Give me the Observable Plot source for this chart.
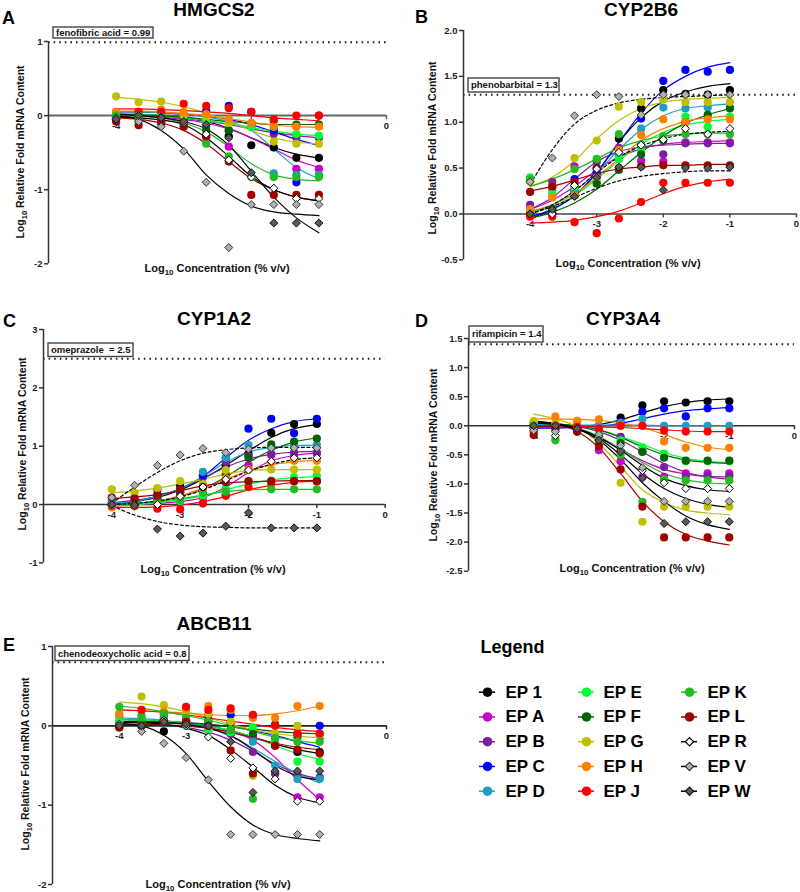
<!DOCTYPE html>
<html><head><meta charset="utf-8">
<script src="https://cdn.jsdelivr.net/npm/d3@7"></script>
<script src="https://cdn.jsdelivr.net/npm/@observablehq/plot@0.6"></script>
<style>
body{margin:0;background:#fff}
#wrap{position:relative;width:800px;height:892px;overflow:hidden;font-family:"Liberation Sans",Arial,sans-serif}
#wrap svg{position:absolute}
</style></head><body><div id="wrap"></div>
<script>
// ---------- data ----------
const conc = [-4, -3.667, -3.333, -3, -2.667, -2.333, -2, -1.667, -1.333, -1];
const xTicks = [-4, -3, -2, -1, 0];
const series = ["EP 1","EP A","EP B","EP C","EP D","EP E","EP F","EP G","EP H","EP J","EP K","EP L","EP R","EP V","EP W"];
const pointFill = ["#000000","#cc00cc","#7a1f9e","#0000ff","#1f9fbf","#00ff33","#006400","#bfbf00","#ff8000","#ff0000","#22bb22","#a00000","#ffffff","#b0b0b0","#5a5a5a"];
const pointStroke = ["none","none","none","none","none","none","none","none","none","none","none","none","#000000","#333333","#111111"];
const lineColor = ["#000000","#cc00cc","#7a1f9e","#0000ff","#1f9fbf","#00ff33","#006400","#bfbf00","#ff8000","#ff0000","#22bb22","#a00000","#000000","#000000","#000000"];
const markerShape = ["circle","circle","circle","circle","circle","circle","circle","circle","circle","circle","circle","circle","diamond","diamond","diamond"];

const panelTitles = ["HMGCS2","CYP2B6","CYP1A2","CYP3A4","ABCB11"];
const panelLetters = ["A","B","C","D","E"];
const refLabels = ["fenofibric acid = 0.99","phenobarbital = 1.3","omeprazole  = 2.5","rifampicin = 1.4","chenodeoxycholic acid = 0.8"];
const refValues = [0.99, 1.3, 2.5, 1.4, 0.8];
const yTicksA = [-2, -1, 0, 1];
const yTicksB = [-0.5, 0, 0.5, 1, 1.5, 2];
const yTicksC = [-1, 0, 1, 2, 3];
const yTicksD = [-2.5, -2, -1.5, -1, -0.5, 0, 0.5, 1, 1.5];
const yTicksE = [-2, -1, 0, 1];

// HMGCS2 (A)
const hmgcs2Points = [
 [0.0, 0.0, -0.1, -0.03, -0.07, -0.28, -0.4, -0.43, -0.57, -0.57],
 [-0.02, -0.05, -0.08, -0.12, -0.3, -0.42, -0.15, -0.2, -0.72, -0.72],
 [-0.02, 0.0, -0.05, -0.1, -0.15, -0.2, -0.1, -0.25, -0.3, -0.3],
 [0.03, 0.03, 0.02, 0.0, 0.06, 0.13, 0.05, -0.2, -0.9, 0.0],
 [0.05, 0.05, 0.03, 0.0, -0.05, -0.08, -0.15, -0.78, -0.8, -0.8],
 [0.02, 0.02, 0.0, -0.05, -0.08, -0.1, -0.15, -0.15, -0.25, -0.27],
 [0.0, 0.0, -0.02, -0.05, -0.2, -0.2, -0.1, -0.07, -0.12, -0.12],
 [0.26, 0.18, 0.19, 0.0, -0.02, -0.1, -0.1, -0.35, -0.38, -0.38],
 [0.05, 0.05, 0.08, 0.05, 0.02, -0.05, -0.1, -0.15, -0.15, -0.15],
 [-0.05, 0.05, 0.05, 0.16, 0.13, 0.1, 0.05, -0.05, 0.0, 0.0],
 [0.0, 0.0, -0.02, -0.12, -0.38, -0.55, -0.83, -0.83, -0.83, -0.83],
 [-0.08, -0.13, -0.08, -0.15, -0.28, -0.62, -1.07, -1.07, -1.07, -1.07],
 [-0.03, -0.08, -0.02, -0.1, -0.25, -0.6, -0.83, -0.98, -1.12, -1.12],
 [-0.03, -0.08, -0.15, -0.48, -0.9, -1.78, -1.2, -1.2, -1.2, -1.2],
 [-0.05, 0.0, -0.03, -0.08, -0.12, -0.3, -0.77, -1.45, -1.45, -1.45]
];
const hmgcs2Fits = [
 [0.02, 0.01, 0, -0.03, -0.08, -0.17, -0.3, -0.43, -0.52, -0.57],
 [0.0, 0.0, -0.02, -0.05, -0.1, -0.18, -0.3, -0.45, -0.6, -0.7],
 [0.02, 0.01, 0, -0.03, -0.07, -0.12, -0.18, -0.23, -0.27, -0.3],
 [0.05, 0.05, 0.04, 0.02, -0.01, -0.05, -0.12, -0.22, -0.32, -0.4],
 [0.05, 0.05, 0.04, 0.02, -0.02, -0.08, -0.2, -0.45, -0.7, -0.85],
 [0.03, 0.02, 0, -0.03, -0.07, -0.11, -0.16, -0.21, -0.25, -0.27],
 [0.02, 0.01, 0, -0.02, -0.05, -0.08, -0.1, -0.12, -0.12, -0.12],
 [0.25, 0.22, 0.18, 0.12, 0.03, -0.08, -0.2, -0.3, -0.36, -0.38],
 [0.06, 0.06, 0.05, 0.03, 0, -0.04, -0.09, -0.13, -0.15, -0.16],
 [0.09, 0.09, 0.08, 0.07, 0.05, 0.03, 0, -0.03, -0.05, -0.07],
 [0.0, -0.01, -0.03, -0.1, -0.22, -0.42, -0.65, -0.8, -0.86, -0.88],
 [-0.03, -0.05, -0.1, -0.2, -0.38, -0.62, -0.85, -1.0, -1.1, -1.15],
 [-0.02, -0.03, -0.06, -0.12, -0.3, -0.55, -0.82, -1.0, -1.1, -1.15],
 [0.0, -0.05, -0.2, -0.45, -0.8, -1.05, -1.22, -1.3, -1.33, -1.35],
 [0.02, 0.0, -0.03, -0.08, -0.18, -0.4, -0.75, -1.1, -1.38, -1.58]
];

// CYP2B6 (B)
const cyp2b6Points = [
 [0.0, 0.0, 0.24, 0.4, 0.82, 1.15, 1.35, 1.31, 1.3, 1.35],
 [0.05, 0.2, 0.52, 0.45, 0.6, 0.58, 0.57, 0.78, 0.78, 0.78],
 [0.1, 0.35, 0.3, 0.57, 0.72, 0.75, 0.65, 0.77, 0.77, 0.77],
 [0.0, 0.05, 0.38, 0.45, 0.7, 1.04, 1.45, 1.57, 1.55, 1.57],
 [0.05, 0.27, 0.25, 0.5, 0.65, 0.93, 1.16, 1.15, 1.16, 1.16],
 [0.4, 0.22, 0.3, 0.35, 0.6, 0.7, 0.85, 1.06, 0.95, 1.06],
 [0.0, 0.05, 0.2, 0.33, 0.48, 0.65, 0.8, 1.0, 1.08, 1.15],
 [0.35, 0.3, 0.61, 0.8, 1.17, 1.22, 1.25, 1.22, 1.22, 1.22],
 [0.05, 0.18, 0.2, 0.4, 0.7, 0.86, 1.03, 1.0, 1.03, 1.03],
 [-0.03, -0.03, -0.09, -0.21, -0.05, 0.13, 0.34, 0.34, 0.34, 0.34],
 [0.38, 0.3, 0.49, 0.6, 0.87, 0.75, 0.85, 0.87, 0.87, 0.87],
 [0.24, 0.3, 0.35, 0.5, 0.5, 0.52, 0.53, 0.53, 0.53, 0.53],
 [0.0, 0.0, 0.31, 0.49, 0.67, 0.75, 0.81, 0.93, 0.87, 0.93],
 [0.35, 0.61, 1.07, 1.3, 1.28, 1.08, 1.3, 1.3, 1.3, 1.3],
 [0.0, 0.05, 0.19, 0.4, 0.51, 0.51, 0.26, 0.5, 0.5, 0.51]
];
const cyp2b6Fits = [
 [-0.05, 0.05, 0.2, 0.45, 0.78, 1.05, 1.23, 1.33, 1.39, 1.42],
 [0.05, 0.15, 0.3, 0.48, 0.62, 0.71, 0.76, 0.78, 0.79, 0.8],
 [0.05, 0.18, 0.38, 0.57, 0.68, 0.73, 0.75, 0.76, 0.77, 0.77],
 [-0.03, 0.05, 0.2, 0.45, 0.78, 1.1, 1.35, 1.5, 1.6, 1.65],
 [0.02, 0.1, 0.25, 0.45, 0.7, 0.92, 1.07, 1.15, 1.18, 1.2],
 [0.02, 0.08, 0.2, 0.38, 0.58, 0.76, 0.89, 0.97, 1.01, 1.03],
 [-0.05, 0.02, 0.12, 0.27, 0.47, 0.67, 0.85, 0.99, 1.08, 1.15],
 [0.3, 0.4, 0.58, 0.82, 1.02, 1.15, 1.22, 1.25, 1.26, 1.27],
 [0.03, 0.1, 0.22, 0.4, 0.6, 0.8, 0.93, 1.01, 1.05, 1.07],
 [-0.1, -0.09, -0.07, -0.03, 0.03, 0.12, 0.22, 0.3, 0.35, 0.38],
 [0.3, 0.38, 0.48, 0.6, 0.72, 0.8, 0.85, 0.87, 0.88, 0.88],
 [0.25, 0.3, 0.37, 0.44, 0.49, 0.51, 0.53, 0.53, 0.54, 0.54],
 [0.0, 0.1, 0.25, 0.45, 0.62, 0.74, 0.82, 0.87, 0.89, 0.9],
 [0.32, 0.7, 0.98, 1.13, 1.21, 1.25, 1.27, 1.28, 1.29, 1.3],
 [0.0, 0.08, 0.18, 0.28, 0.36, 0.41, 0.44, 0.46, 0.47, 0.47]
];

// CYP1A2 (C)
const cyp1a2Points = [
 [0.0, 0.0, 0.16, 0.31, 0.51, 0.67, 0.87, 1.23, 1.38, 1.38],
 [0.0, 0.0, 0.05, 0.05, 0.12, 0.16, 0.67, 0.87, 0.85, 0.87],
 [0.05, 0.12, 0.1, 0.22, 0.47, 0.73, 0.83, 0.85, 0.89, 0.89],
 [0.02, 0.05, 0.25, 0.2, 0.5, 0.8, 1.3, 1.47, 1.22, 1.47],
 [0.05, 0.05, 0.12, 0.25, 0.56, 0.8, 1.02, 0.98, 1.02, 1.02],
 [0.0, 0.0, 0.02, 0.06, 0.15, 0.27, 0.39, 0.41, 0.47, 0.49],
 [0.0, 0.02, 0.05, 0.15, 0.3, 0.51, 0.8, 1.03, 1.08, 1.13],
 [0.26, 0.2, 0.28, 0.4, 0.35, 0.59, 0.6, 0.6, 0.6, 0.6],
 [-0.05, -0.03, 0.0, 0.1, 0.25, 0.45, 0.6, 0.72, 0.75, 0.75],
 [-0.02, -0.02, -0.07, -0.08, 0.02, 0.15, 0.3, 0.36, 0.4, 0.4],
 [0.0, 0.0, 0.03, 0.08, 0.2, 0.22, 0.39, 0.26, 0.26, 0.26],
 [0.12, 0.1, 0.15, 0.25, 0.3, 0.38, 0.4, 0.4, 0.4, 0.4],
 [0.0, 0.0, 0.0, 0.14, 0.3, 0.43, 0.59, 0.74, 0.8, 0.8],
 [0.12, 0.33, 0.67, 0.85, 0.96, 0.89, 0.95, 0.97, 0.97, 0.97],
 [0.0, -0.02, -0.42, -0.54, -0.49, -0.37, -0.14, -0.4, -0.4, -0.4]
];
const cyp1a2Fits = [
 [0.0, 0.05, 0.12, 0.25, 0.44, 0.67, 0.92, 1.15, 1.3, 1.37],
 [0.0, 0.0, 0.02, 0.05, 0.12, 0.3, 0.55, 0.75, 0.84, 0.88],
 [0.03, 0.07, 0.14, 0.27, 0.45, 0.64, 0.78, 0.86, 0.9, 0.91],
 [0.02, 0.06, 0.14, 0.27, 0.48, 0.8, 1.1, 1.3, 1.42, 1.47],
 [0.02, 0.06, 0.14, 0.27, 0.48, 0.72, 0.9, 0.98, 1.01, 1.02],
 [-0.02, 0.0, 0.03, 0.08, 0.15, 0.25, 0.35, 0.42, 0.46, 0.48],
 [0.0, 0.02, 0.06, 0.14, 0.27, 0.47, 0.72, 0.93, 1.07, 1.14],
 [0.2, 0.23, 0.28, 0.35, 0.43, 0.52, 0.58, 0.6, 0.6, 0.6],
 [-0.03, 0.0, 0.06, 0.15, 0.28, 0.43, 0.58, 0.68, 0.73, 0.76],
 [-0.05, -0.05, -0.04, -0.01, 0.05, 0.14, 0.25, 0.33, 0.38, 0.4],
 [0.0, 0.02, 0.05, 0.1, 0.16, 0.22, 0.25, 0.26, 0.26, 0.26],
 [0.1, 0.13, 0.17, 0.24, 0.32, 0.37, 0.39, 0.4, 0.41, 0.41],
 [0.0, 0.02, 0.06, 0.13, 0.25, 0.41, 0.57, 0.69, 0.77, 0.8],
 [0.02, 0.3, 0.55, 0.75, 0.88, 0.94, 0.97, 0.98, 0.98, 0.98],
 [-0.02, -0.18, -0.29, -0.35, -0.38, -0.39, -0.4, -0.4, -0.4, -0.4]
];

// CYP3A4 (D)
const cyp3a4Points = [
 [0.0, 0.0, -0.08, -0.03, 0.14, 0.35, 0.42, 0.4, 0.42, 0.42],
 [0.0, -0.05, -0.1, -0.42, -0.61, -0.88, -0.88, -0.82, -0.82, -0.82],
 [0.05, 0.0, -0.1, -0.2, -0.19, -0.44, -0.71, -0.87, -0.87, -0.87],
 [-0.03, 0.0, -0.02, 0.0, 0.06, 0.24, 0.3, 0.16, 0.3, 0.3],
 [0.05, 0.02, 0.0, 0.0, 0.05, 0.12, 0.0, 0.0, 0.0, 0.0],
 [0.05, -0.22, -0.05, -0.15, -0.25, -0.37, -0.48, -0.61, -0.61, -0.61],
 [0.0, 0.0, -0.05, -0.25, -0.3, -0.45, -0.55, -0.6, -0.6, -0.6],
 [0.08, 0.05, 0.09, -0.2, -0.98, -1.65, -1.39, -1.39, -1.39, -1.39],
 [0.0, 0.16, 0.07, 0.11, 0.0, 0.0, -0.27, -0.38, -0.38, -0.38],
 [-0.1, 0.0, -0.02, -0.05, 0.0, 0.0, -0.08, -0.1, -0.1, -0.1],
 [0.0, -0.25, -0.1, -0.3, -0.5, -1.31, -0.92, -0.94, -0.94, -0.94],
 [-0.16, -0.05, -0.1, -0.35, -0.75, -1.39, -1.92, -1.92, -1.92, -1.92],
 [-0.05, -0.17, -0.05, -0.18, -0.42, -0.77, -0.98, -1.08, -1.08, -1.08],
 [-0.08, -0.1, -0.05, -0.15, -0.34, -0.72, -1.3, -1.3, -1.3, -1.3],
 [0.0, 0.0, -0.05, -0.25, -0.45, -0.9, -1.68, -1.65, -1.65, -1.65]
];
const cyp3a4Fits = [
 [-0.02, -0.02, -0.01, 0.02, 0.1, 0.22, 0.33, 0.4, 0.44, 0.46],
 [0.03, 0.0, -0.06, -0.2, -0.4, -0.6, -0.75, -0.83, -0.87, -0.88],
 [0.05, 0.03, -0.01, -0.1, -0.25, -0.45, -0.65, -0.8, -0.88, -0.92],
 [-0.04, -0.04, -0.03, -0.01, 0.04, 0.12, 0.2, 0.26, 0.29, 0.31],
 [0.02, 0.02, 0.01, 0.01, 0.01, 0.01, 0.0, 0.0, 0.0, 0.0],
 [0.05, 0.03, 0.0, -0.07, -0.18, -0.32, -0.46, -0.56, -0.61, -0.63],
 [0.05, 0.03, 0.0, -0.07, -0.2, -0.36, -0.5, -0.59, -0.63, -0.65],
 [0.2, 0.12, -0.02, -0.3, -0.7, -1.1, -1.32, -1.45, -1.5, -1.53],
 [0.12, 0.12, 0.11, 0.09, 0.05, -0.03, -0.15, -0.28, -0.37, -0.41],
 [0.0, 0.0, -0.01, -0.02, -0.03, -0.05, -0.07, -0.09, -0.1, -0.1],
 [0.05, 0.02, -0.04, -0.18, -0.4, -0.63, -0.82, -0.93, -0.98, -1.0],
 [0.08, 0.03, -0.1, -0.38, -0.82, -1.3, -1.65, -1.87, -1.98, -2.05],
 [0.05, 0.02, -0.05, -0.2, -0.42, -0.68, -0.9, -1.03, -1.1, -1.13],
 [0.07, 0.03, -0.05, -0.22, -0.5, -0.82, -1.08, -1.25, -1.35, -1.4],
 [0.07, 0.04, -0.05, -0.25, -0.58, -0.98, -1.3, -1.55, -1.7, -1.78]
];

// ABCB11 (E)
const abcb11Points = [
 [0.0, 0.0, -0.07, 0.07, 0.14, 0.04, -0.14, -0.25, -0.33, -0.33],
 [0.05, 0.05, 0.1, 0.0, -0.03, -0.1, -0.15, -0.6, -0.9, -0.9],
 [0.05, 0.03, 0.08, 0.03, -0.05, -0.1, -0.33, -0.6, -0.62, -0.65],
 [0.0, 0.05, 0.05, 0.05, 0.06, 0.14, 0.12, -0.15, -0.1, 0.0],
 [0.12, 0.13, 0.1, 0.05, 0.0, -0.05, -0.2, -0.5, -0.67, -0.67],
 [0.05, 0.05, 0.05, 0.0, -0.05, -0.08, -0.02, -0.2, -0.45, -0.45],
 [0.0, 0.03, 0.05, 0.02, 0.0, -0.05, -0.1, 0.02, -0.14, -0.1],
 [0.15, 0.37, 0.26, 0.2, 0.15, 0.05, -0.63, -0.1, 0.0, -0.12],
 [0.15, 0.2, 0.18, 0.22, 0.25, 0.2, 0.1, 0.1, 0.25, 0.25],
 [-0.02, 0.2, 0.15, 0.24, 0.2, 0.22, 0.14, 0.0, -0.1, -0.1],
 [0.24, 0.1, 0.15, 0.1, 0.05, -0.05, -0.92, -0.15, -0.2, -0.2],
 [-0.02, 0.0, 0.05, 0.05, 0.0, -0.31, -0.6, -0.25, -0.3, -0.35],
 [0.02, 0.0, 0.07, 0.0, -0.14, -0.41, -0.53, -0.67, -0.95, -0.95],
 [0.02, -0.07, -0.22, -0.4, -0.68, -1.37, -1.37, -1.37, -1.37, -1.37],
 [0.0, 0.0, 0.05, 0.02, 0.0, -0.2, -0.84, -0.57, -0.57, -0.57]
];
const abcb11Fits = [
 [0.08, 0.07, 0.06, 0.04, 0.0, -0.06, -0.14, -0.23, -0.3, -0.35],
 [0.02, 0.02, 0.01, 0.0, -0.03, -0.08, -0.18, -0.4, -0.68, -0.93],
 [0.05, 0.04, 0.02, -0.02, -0.08, -0.18, -0.32, -0.48, -0.6, -0.67],
 [0.05, 0.05, 0.05, 0.04, 0.02, -0.01, -0.06, -0.12, -0.2, -0.27],
 [0.1, 0.09, 0.07, 0.03, -0.03, -0.13, -0.28, -0.45, -0.6, -0.72],
 [0.08, 0.07, 0.06, 0.04, 0.0, -0.06, -0.14, -0.25, -0.35, -0.42],
 [0.05, 0.05, 0.04, 0.03, 0.02, -0.01, -0.04, -0.07, -0.09, -0.1],
 [0.3, 0.28, 0.24, 0.18, 0.1, 0.02, -0.05, -0.1, -0.13, -0.15],
 [0.2, 0.19, 0.18, 0.16, 0.14, 0.13, 0.13, 0.15, 0.19, 0.25],
 [0.2, 0.19, 0.17, 0.14, 0.1, 0.06, 0.02, -0.02, -0.05, -0.07],
 [0.25, 0.22, 0.18, 0.13, 0.07, 0.0, -0.07, -0.14, -0.19, -0.22],
 [0.02, 0.02, 0.01, 0.0, -0.03, -0.08, -0.15, -0.22, -0.27, -0.3],
 [0.05, 0.04, 0.02, -0.03, -0.12, -0.3, -0.52, -0.75, -0.9, -0.97],
 [0.03, 0.0, -0.12, -0.35, -0.7, -1.02, -1.25, -1.37, -1.42, -1.45],
 [0.05, 0.05, 0.04, 0.02, -0.03, -0.12, -0.3, -0.5, -0.63, -0.68]
];

// ---------- layout ----------
const FONT = '"Liberation Sans", Arial, sans-serif';
const fmtInt = d => String(d);
const fmt1 = d => d.toFixed(1);
const panels = [
 {pts: hmgcs2Points, fits: hmgcs2Fits, yTicks: yTicksA, fmt: fmtInt, frame: [48, 40.7, 386, 263], axisColor: "#666", axisWidth: 2, dashed: false,
  title: [214, 16], letter: [2, 24], ylab: [24, 152], xlab: [217, 272], box: [53, 27, 100, 11]},
 {pts: cyp2b6Points, fits: cyp2b6Fits, yTicks: yTicksB, fmt: fmt1, frame: [463, 30, 796, 259.3], axisColor: "#444", axisWidth: 1.6, dashed: true,
  title: [641, 16], letter: [415, 23], ylab: [436, 148], xlab: [628, 267], box: [468, 78, 91, 14]},
 {pts: cyp1a2Points, fits: cyp1a2Fits, yTicks: yTicksC, fmt: fmtInt, frame: [43.3, 329.3, 385, 562.7], axisColor: "#333", axisWidth: 1.6, dashed: true,
  title: [214, 325], letter: [3, 327], ylab: [26, 444], xlab: [213, 573], box: [48, 343, 85, 13.5]},
 {pts: cyp3a4Points, fits: cyp3a4Fits, yTicks: yTicksD, fmt: fmt1, frame: [468.3, 338.3, 794.3, 571], axisColor: "#333", axisWidth: 1.6, dashed: false,
  title: [623, 325], letter: [415, 327], ylab: [437, 455], xlab: [632, 572], box: [469, 326, 74, 16]},
 {pts: abcb11Points, fits: abcb11Fits, yTicks: yTicksE, fmt: fmtInt, frame: [51.7, 646, 385.7, 884], axisColor: "#222", axisWidth: 1.6, dashed: false,
  title: [214, 630], letter: [3, 651], ylab: [29, 764], xlab: [218, 888], box: [55, 646, 134, 14.5]}
];
panels[0].yDomain = [-2, 1];
panels[1].yDomain = [-0.5, 2];
panels[2].yDomain = [-1, 3];
panels[3].yDomain = [-2.5, 1.5];
panels[4].yDomain = [-2, 1];

const diamondSymbol = {
  draw(ctx, size) {
    const h = Math.sqrt(size / 2);
    ctx.moveTo(0, -h); ctx.lineTo(h, 0); ctx.lineTo(0, h); ctx.lineTo(-h, 0); ctx.closePath();
  }
};

const wrap = document.getElementById("wrap");

panels.forEach((P, k) => {
  const [fl, ft, fr, fb] = P.frame;
  const mL = 45, mR = 6, mT = 20, mB = 20;
  const pxX = (fr - fl) / 5;
  const pxY = (fb - ft) / (P.yDomain[1] - P.yDomain[0]);
  const pts = [], fits = [];
  series.forEach((s, i) => conc.forEach((c, j) => {
    pts.push({i, x: c, y: P.pts[i][j]});
    fits.push({i, x: c, y: P.fits[i][j]});
  }));
  const dashedSeries = d => P.dashed && markerShape[d.i] === "diamond";
  const svg = Plot.plot({
    width: fr - fl + mL + mR,
    height: fb - ft + mT + mB,
    marginLeft: mL, marginRight: mR, marginTop: mT, marginBottom: mB,
    x: {domain: [-5, 0], axis: null},
    y: {domain: P.yDomain, axis: null},
    color: {type: "identity"},
    style: {background: "transparent", overflow: "visible", fontFamily: FONT},
    marks: [
      Plot.ruleY([refValues[k]], {stroke: "#222", strokeWidth: 2, strokeDasharray: "1.6,4"}),
      Plot.ruleY([0], {stroke: P.axisColor, strokeWidth: P.axisWidth}),
      Plot.ruleX([-5], {stroke: "#333", strokeWidth: 1.5}),
      Plot.ruleY(P.yTicks, {y: d => d, x1: -5, x2: -5 - 4 / pxX, stroke: "#333", strokeWidth: 1.5}),
      Plot.text(P.yTicks, {y: d => d, x: -5, dx: -6, text: P.fmt, textAnchor: "end", fontSize: 9.5, fontWeight: "bold", fill: "#222"}),
      Plot.ruleX(xTicks, {x: d => d, y1: 0, y2: -4 / pxY, stroke: P.axisColor, strokeWidth: 1.5}),
      Plot.text(xTicks, {x: d => d, y: 0, dy: 10, text: d => String(d), fontSize: 9.5, fontWeight: "bold", fill: "#222"}),
      Plot.line(fits.filter(d => !dashedSeries(d)), {x: "x", y: "y", z: "i", stroke: d => lineColor[d.i], strokeWidth: 1.2, curve: "monotone-x"}),
      Plot.line(fits.filter(dashedSeries), {x: "x", y: "y", z: "i", stroke: d => lineColor[d.i], strokeWidth: 1.2, strokeDasharray: "3,2.5", curve: "monotone-x"}),
      Plot.dot(pts.filter(d => markerShape[d.i] === "circle"), {x: "x", y: "y", r: 4.1, fill: d => pointFill[d.i], symbol: "circle"}),
      Plot.dot(pts.filter(d => markerShape[d.i] === "diamond"), {x: "x", y: "y", r: 3.2, fill: d => pointFill[d.i], stroke: d => pointStroke[d.i], strokeWidth: 1, symbol: diamondSymbol})
    ]
  });
  svg.style.position = "absolute";
  svg.style.left = (fl - mL) + "px";
  svg.style.top = (ft - mT) + "px";
  svg.style.maxWidth = "none";
  wrap.appendChild(svg);
});

// ---------- legend (Plot, identity positions) ----------
const legendItems = series.map((s, i) => ({i, s, col: Math.floor(i / 5), row: i % 5}));
const colMarkerX = [87, 186, 289];
const colTextX = [105, 203, 307];
const rowY0 = 71.7, rowStep = 24.75;
const legend = Plot.plot({
  width: 400, height: 272, margin: 0,
  x: {type: "identity", axis: null}, y: {type: "identity", axis: null},
  color: {type: "identity"},
  style: {background: "transparent", overflow: "visible", fontFamily: FONT},
  marks: [
    Plot.text(["Legend"], {x: 80, y: 27, text: d => d, textAnchor: "start", fontSize: 18, fontWeight: "bold", fill: "#000"}),
    Plot.ruleY(legendItems, {y: d => rowY0 + d.row * rowStep, x1: d => colMarkerX[d.col] - 8, x2: d => colMarkerX[d.col] + 8, stroke: d => lineColor[d.i], strokeWidth: 1.5}),
    Plot.dot(legendItems.filter(d => markerShape[d.i] === "circle"), {x: d => colMarkerX[d.col], y: d => rowY0 + d.row * rowStep, r: 4.8, fill: d => pointFill[d.i], symbol: "circle"}),
    Plot.dot(legendItems.filter(d => markerShape[d.i] === "diamond"), {x: d => colMarkerX[d.col], y: d => rowY0 + d.row * rowStep, r: 3.3, fill: d => pointFill[d.i], stroke: d => pointStroke[d.i], strokeWidth: 1.2, symbol: diamondSymbol}),
    Plot.text(legendItems, {x: d => colTextX[d.col], y: d => rowY0 + d.row * rowStep, text: d => d.s, textAnchor: "start", fontSize: 17, fontWeight: "bold", fill: "#000"})
  ]
});
legend.style.position = "absolute";
legend.style.left = "400px";
legend.style.top = "620px";
wrap.appendChild(legend);

// ---------- annotation text ----------
const ov = d3.select(wrap).append("svg")
  .attr("width", 800).attr("height", 892)
  .style("left", "0px").style("top", "0px").style("pointer-events", "none")
  .style("font-family", FONT).style("font-weight", "bold");

function logLabel(g, rest, size) {
  const t = g.append("text").attr("text-anchor", "middle").attr("font-size", size).attr("fill", "#111");
  t.append("tspan").text("Log");
  t.append("tspan").attr("font-size", size * 0.72).attr("dy", size * 0.3).text("10");
  t.append("tspan").attr("dy", -size * 0.3).text(" " + rest);
  return t;
}

panels.forEach((P, k) => {
  ov.append("text").attr("x", P.title[0]).attr("y", P.title[1]).attr("text-anchor", "middle")
    .attr("font-size", 19).attr("fill", "#000").text(panelTitles[k]);
  ov.append("text").attr("x", P.letter[0]).attr("y", P.letter[1])
    .attr("font-size", 18).attr("fill", "#000").text(panelLetters[k]);
  const gy = ov.append("g").attr("transform", `translate(${P.ylab[0]},${P.ylab[1]}) rotate(-90)`);
  logLabel(gy, "Relative Fold mRNA Content", 10.5);
  const gx = ov.append("g").attr("transform", `translate(${P.xlab[0]},${P.xlab[1]})`);
  logLabel(gx, "Concentration (% v/v)", 11);
  const [bx, by, bw, bh] = P.box;
  ov.append("rect").attr("x", bx).attr("y", by).attr("width", bw).attr("height", bh)
    .attr("fill", "#fff").attr("stroke", "#444").attr("stroke-width", 1.4);
  ov.append("text").attr("x", bx + 3).attr("y", by + bh / 2 + 3.4).attr("font-size", 9.5)
    .attr("fill", "#111").style("white-space", "pre").text(refLabels[k]);
});
</script>
</body></html>
